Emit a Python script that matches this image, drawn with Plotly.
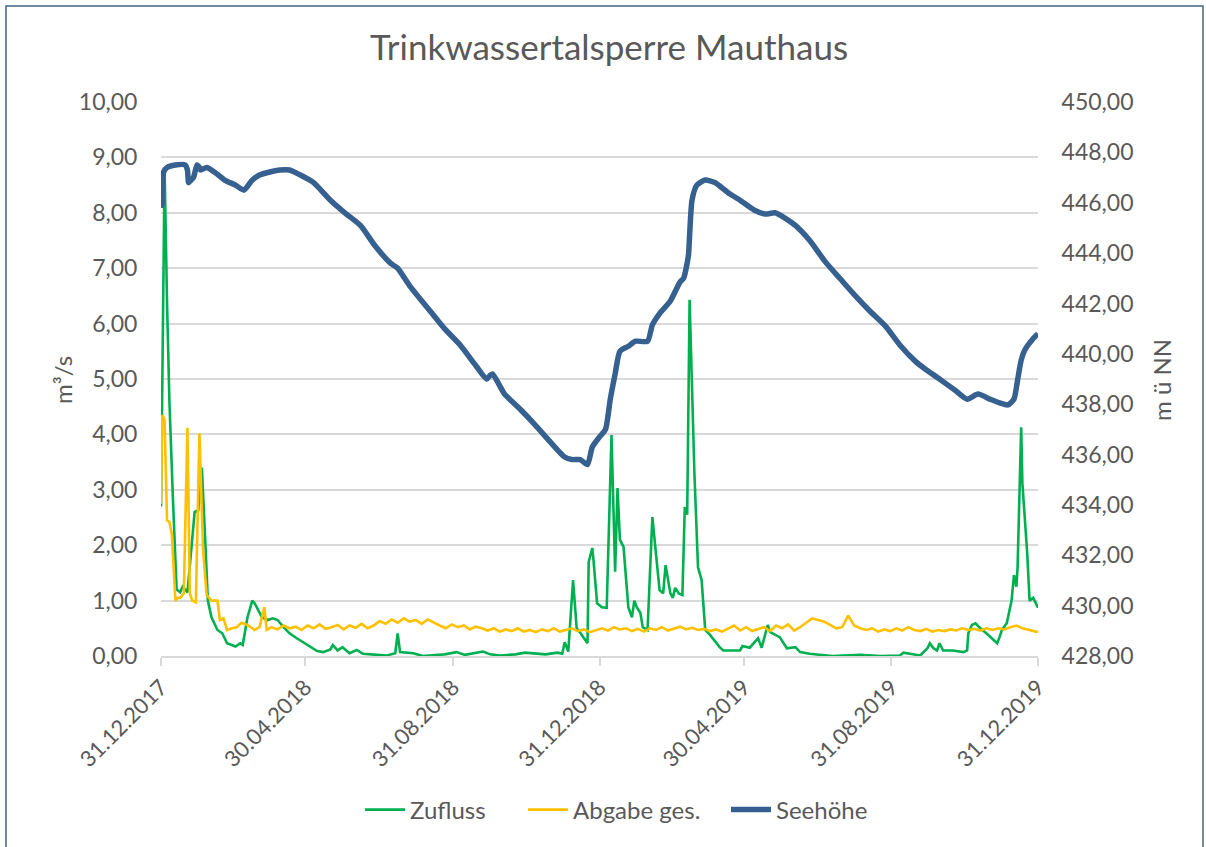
import pandas as pd
import plotly.graph_objects as go

# Zeitachse: Tage seit dem 31.12.2017
START = pd.Timestamp("2017-12-31")

# Seehöhe [m ü NN]
seehoehe_tage = [0, 1, 2, 5, 12, 20, 22, 23, 25, 27, 30, 32, 33, 38, 45, 53, 62, 69, 76, 82,
                 89, 99, 107, 116, 127, 141, 153, 166, 178, 191, 197, 207, 224, 236, 249, 261,
                 271, 274, 276, 286, 299, 311, 324, 336, 342, 349, 355, 359, 365, 370, 374, 378,
                 382, 389, 395, 405, 409, 415, 424, 432, 435, 439, 440, 442, 446, 453, 461, 472,
                 482, 494, 503, 511, 519, 528, 540, 553, 565, 578, 590, 603, 615, 628, 636, 648,
                 661, 671, 680, 690, 698, 705, 710, 713, 716, 719, 725, 730]
seehoehe = [446.1, 445.9, 447.2, 447.4, 447.5, 447.5, 447.3, 446.8, 446.9, 447.0, 447.5, 447.4,
            447.3, 447.4, 447.2, 446.9, 446.7, 446.5, 446.9, 447.1, 447.2, 447.3, 447.3, 447.1,
            446.8, 446.1, 445.6, 445.1, 444.3, 443.6, 443.4, 442.7, 441.7, 441.0, 440.35, 439.6,
            439.0, 439.15, 439.2, 438.4, 437.8, 437.2, 436.5, 435.9, 435.8, 435.8, 435.6, 436.3,
            436.7, 437.0, 438.2, 439.2, 440.1, 440.3, 440.5, 440.5, 441.15, 441.6, 442.1, 442.85,
            443.0, 443.9, 444.7, 446.1, 446.7, 446.9, 446.8, 446.4, 446.1, 445.7, 445.55, 445.6,
            445.4, 445.1, 444.5, 443.65, 443.0, 442.3, 441.7, 441.1, 440.35, 439.7, 439.4, 439.0,
            438.55, 438.2, 438.4, 438.2, 438.05, 437.97, 438.2, 438.96, 439.75, 440.15, 440.55,
            440.8]

# Zufluss [m³/s]
zufluss_tage = [0, 3, 5, 7, 10, 13, 16, 18, 22, 26, 28, 31, 34, 37, 39, 42, 47, 51, 55, 62,
                66, 68, 72, 76, 78, 84, 89, 93, 97, 102, 107, 113, 118, 124, 130, 135, 141, 143,
                147, 151, 157, 163, 168, 180, 188, 195, 197, 199, 210, 218, 228, 236, 246, 253,
                268, 274, 282, 295, 303, 311, 320, 330, 334, 336, 339, 343, 346, 349, 355, 356,
                359, 360, 363, 367, 371, 375, 378, 380, 382, 385, 389, 392, 394, 396, 399, 401,
                405, 409, 413, 415, 418, 420, 424, 426, 428, 431, 434, 436, 438, 440, 444, 447,
                450, 453, 457, 465, 468, 482, 484, 490, 497, 500, 505, 507, 515, 521, 528, 532,
                540, 559, 582, 599, 615, 618, 632, 638, 640, 643, 646, 648, 651, 659, 668, 671,
                672, 675, 678, 682, 687, 693, 696, 698, 700, 704, 708, 710, 712, 713, 716, 717,
                721, 723, 726, 730]
zufluss = [2.7, 8.8, 6.4, 4.6, 2.8, 1.2, 1.15, 1.25, 1.15, 2.2, 2.6, 2.63, 3.4, 2.0, 1.0, 0.7,
           0.47, 0.41, 0.23, 0.17, 0.23, 0.2, 0.7, 1.0, 0.95, 0.7, 0.65, 0.68, 0.65, 0.52, 0.41,
           0.32, 0.25, 0.16, 0.09, 0.07, 0.12, 0.2, 0.1, 0.16, 0.05, 0.11, 0.04, 0.02, 0.01, 0.05,
           0.41, 0.07, 0.05, 0.0, 0.02, 0.03, 0.07, 0.02, 0.08, 0.03, 0.01, 0.03, 0.06, 0.04,
           0.03, 0.06, 0.04, 0.25, 0.08, 1.37, 0.5, 0.42, 0.23, 1.7, 1.95, 1.73, 0.95, 0.88, 0.87,
           3.99, 1.52, 3.03, 2.1, 1.97, 0.88, 0.7, 1.0, 0.88, 0.78, 0.52, 0.47, 2.51, 1.6, 1.19,
           1.13, 1.64, 1.13, 1.05, 1.23, 1.13, 1.1, 2.69, 2.55, 6.43, 3.3, 1.6, 1.37, 0.47, 0.38,
           0.16, 0.1, 0.1, 0.18, 0.15, 0.32, 0.15, 0.56, 0.43, 0.34, 0.14, 0.16, 0.07, 0.04, 0.0,
           0.02, 0.0, 0.01, 0.06, 0.01, 0.14, 0.23, 0.14, 0.1, 0.23, 0.1, 0.1, 0.07, 0.1, 0.41,
           0.56, 0.59, 0.5, 0.41, 0.29, 0.23, 0.34, 0.47, 0.59, 1.0, 1.46, 1.25, 1.6, 4.13, 3.12,
           1.86, 1.0, 1.05, 0.87]

# Abgabe gesamt [m³/s]
abgabe_tage = [0, 1, 3, 5, 7, 9, 12, 14, 16, 19, 22, 24, 26, 29, 32, 35, 38, 42, 47, 49, 52,
               55, 59, 63, 67, 72, 78, 82, 86, 88,
               92, 97, 102, 107, 112, 117, 122, 127, 132, 137, 142, 147, 152, 157, 162, 167,
               172, 177, 182, 187, 192, 197, 202, 207, 212, 217, 222, 227, 232, 237, 242, 247,
               252, 257, 262, 267, 272, 277, 282, 287, 292, 297, 302, 307, 312, 317, 322, 327,
               332, 337, 342, 347, 352, 357, 362, 367, 372, 377, 382, 387, 392, 397, 402, 407,
               412, 417, 422, 427, 432, 437, 442, 447, 452, 457, 462, 467, 472, 477, 482, 487,
               492, 497, 502, 507, 512, 517, 522, 527, 532, 537, 542, 547, 552, 557, 562, 567,
               572, 577, 582, 587, 592, 597, 602, 607, 612, 617, 622, 627, 632, 637, 642, 647,
               652, 657, 662, 667, 672, 677, 682, 687, 692, 697, 702, 707, 712, 717, 722, 727,
               730]
abgabe = [2.75, 4.35, 4.26, 2.45, 2.42, 2.2, 1.0, 1.05, 1.05, 1.13, 4.12, 1.13, 1.0, 0.97,
          4.02, 1.91, 1.1, 1.0, 1.0, 0.65, 0.68, 0.47, 0.5, 0.52, 0.6, 0.56, 0.47, 0.52, 0.88,
          0.47,
          0.52, 0.48, 0.55, 0.5, 0.53, 0.47, 0.55, 0.5, 0.57, 0.49, 0.52, 0.56, 0.48, 0.55,
          0.51, 0.58, 0.5, 0.55, 0.63, 0.58, 0.66, 0.6, 0.68, 0.62, 0.65, 0.58, 0.66, 0.6,
          0.55, 0.5, 0.57, 0.52, 0.55, 0.48, 0.53, 0.5, 0.46, 0.5, 0.44, 0.48, 0.45, 0.5, 0.44,
          0.47, 0.43, 0.48, 0.45, 0.5, 0.44, 0.47, 0.5, 0.45, 0.48, 0.43, 0.47, 0.5, 0.46, 0.52,
          0.48, 0.5, 0.45, 0.49, 0.44, 0.5, 0.47, 0.52, 0.46, 0.5, 0.53, 0.48, 0.51, 0.47, 0.49,
          0.45, 0.48, 0.44, 0.5, 0.55, 0.46, 0.52, 0.45, 0.48, 0.52, 0.45, 0.55, 0.5, 0.57,
          0.46, 0.52, 0.6, 0.68, 0.65, 0.62, 0.56, 0.5, 0.52, 0.73, 0.55, 0.5, 0.47, 0.5, 0.44,
          0.48, 0.45, 0.5, 0.46, 0.52, 0.47, 0.45, 0.49, 0.44, 0.47, 0.45, 0.48, 0.46, 0.5,
          0.47, 0.49, 0.46, 0.5, 0.47, 0.5, 0.48, 0.52, 0.55, 0.5, 0.47, 0.45, 0.43]

# Beschriftung der Datumsachse
datum_ticks = ["2017-12-31", "2018-04-30", "2018-08-31", "2018-12-31",
               "2019-04-30", "2019-08-31", "2019-12-31"]


def zu_datum(tage):
    return START + pd.to_timedelta(tage, unit="D")


FONT = "Lato"
GREY = "#595959"
GRID = "#d9d9d9"

fig = go.Figure()
fig.add_trace(go.Scatter(x=zu_datum(zufluss_tage), y=zufluss, name="Zufluss",
                         mode="lines", line=dict(color="#00B050", width=2.6),
                         legend="legend"))
fig.add_trace(go.Scatter(x=zu_datum(abgabe_tage), y=abgabe, name="Abgabe ges.",
                         mode="lines", line=dict(color="#FFC000", width=2.6),
                         legend="legend2"))
fig.add_trace(go.Scatter(x=zu_datum(seehoehe_tage), y=seehoehe, name="Seehöhe",
                         mode="lines", yaxis="y2",
                         line=dict(color="#36608F", width=5.5, shape="spline",
                                   smoothing=0.6),
                         legend="legend3"))

L, R, T, B = 161, 168, 102, 191
W, H = 1206, 847
pw, ph = W - L - R, H - T - B


def px(x):
    return (x - L) / pw


def py(y):
    return (H - B - y) / ph


def legende(x_links):
    return dict(orientation="h", x=px(x_links), xanchor="left", y=py(810),
                yanchor="middle", font=dict(size=24, color=GREY), itemwidth=40,
                bgcolor="rgba(0,0,0,0)")


fig.update_layout(
    width=W, height=H,
    margin=dict(l=L, r=R, t=T, b=B),
    paper_bgcolor="white", plot_bgcolor="white",
    separators=",.",
    font=dict(family=FONT, color=GREY, size=23),
    title=dict(text="Trinkwassertalsperre Mauthaus", x=px(609), xanchor="center",
               xref="paper", y=1 - 48 / H, yanchor="middle", yref="container",
               font=dict(family=FONT, size=35, color=GREY)),
    xaxis=dict(type="date", range=[datum_ticks[0], datum_ticks[-1]],
               tickvals=datum_ticks, tickformat="%d.%m.%Y", tickangle=-45,
               showgrid=False, showline=True, linecolor=GRID, linewidth=1.5,
               ticks="outside", ticklen=8, tickcolor=GRID, tickwidth=1.5,
               zeroline=False, tickfont=dict(size=22, color=GREY)),
    yaxis=dict(range=[0, 10], dtick=1, tickformat=".2f", showgrid=True,
               gridcolor=GRID, gridwidth=1.5, zeroline=False, showline=False,
               ticks="outside", ticklen=18, tickcolor="rgba(0,0,0,0)",
               tickfont=dict(size=23, color=GREY)),
    yaxis2=dict(range=[428, 450], dtick=2, tickformat=".2f", overlaying="y",
                side="right", showgrid=False, zeroline=False, showline=False,
                ticks="outside", ticklen=18, tickcolor="rgba(0,0,0,0)",
                tickfont=dict(size=23, color=GREY)),
    legend=legende(360),
    legend2=legende(523),
    legend3=legende(726),
    showlegend=True,
    annotations=[
        dict(text="m³/s", x=px(62), y=py(380), xref="paper", yref="paper",
             xanchor="center", yanchor="middle",
             showarrow=False, textangle=-90, font=dict(size=24, color=GREY)),
        dict(text="m ü NN", x=px(1161), y=py(380), xref="paper", yref="paper",
             xanchor="center", yanchor="middle",
             showarrow=False, textangle=-90, font=dict(size=24, color=GREY)),
    ],
    shapes=[
        dict(type="rect", xref="paper", yref="paper",
             x0=px(6), x1=px(1203), y0=py(870), y1=py(6),
             line=dict(color="#46637f", width=1.5), fillcolor="rgba(0,0,0,0)",
             layer="below"),
    ],
)

fig.write_html("out.html")
